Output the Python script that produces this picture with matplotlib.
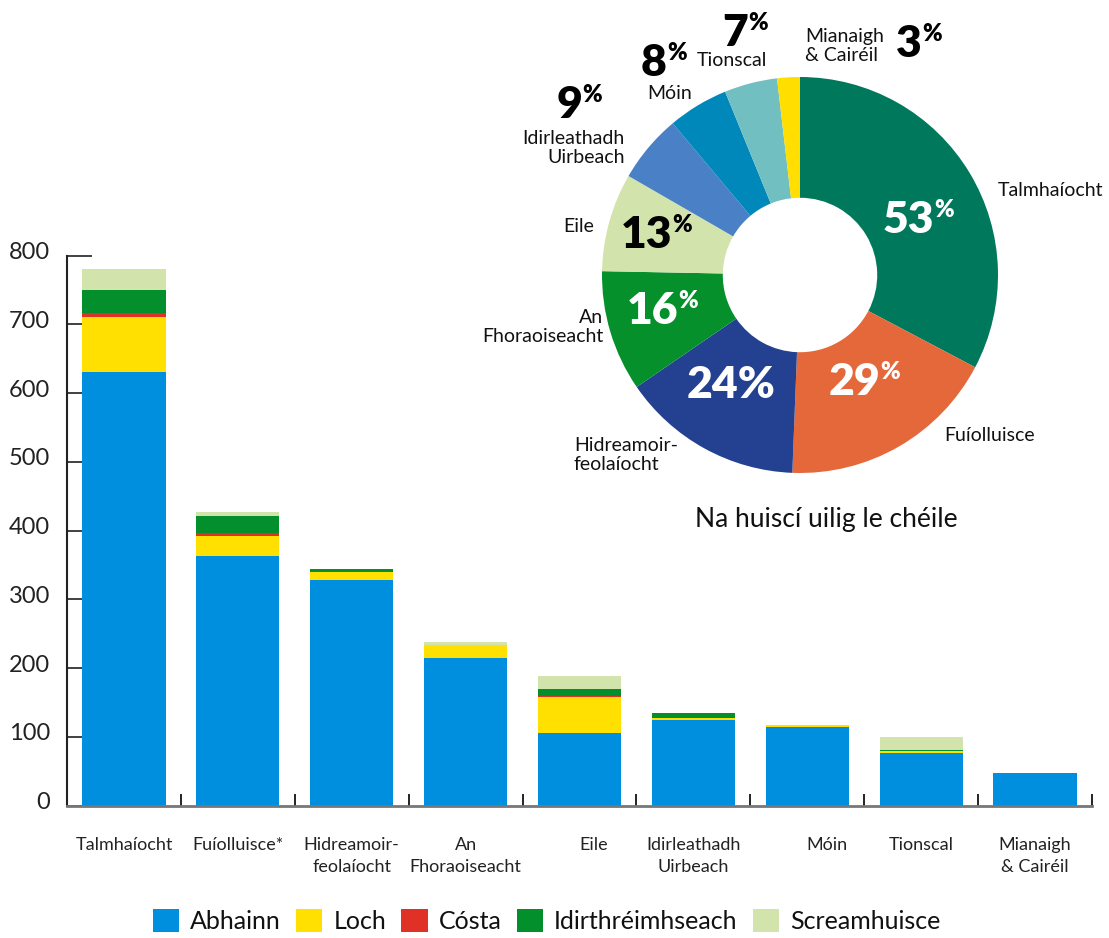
import matplotlib
matplotlib.use('Agg')
import matplotlib.pyplot as plt
from matplotlib.patches import Patch
from matplotlib.transforms import ScaledTranslation
import numpy as np

plt.rcParams['font.family'] = ['Lato', 'DejaVu Sans']

# Sonraí an ghraf barraí
categories = ['Talmhaíocht', 'Fuíolluisce*', 'Hidreamoir-\nfeolaíocht', 'An\nFhoraoiseacht', 'Eile',
              'Idirleathadh\nUirbeach', 'Móin', 'Tionscal', 'Mianaigh\n& Cairéil']
abhainn = [630, 363, 328, 215, 106, 125, 114, 76, 47]
loch = [80, 29, 11, 19, 52, 3, 3, 3, 0]
costa = [7, 4, 0, 0, 1, 0, 0, 0, 0]
idirthreimhseach = [33, 25, 5, 0, 10, 7, 0, 2, 0]
screamhuisce = [31, 6, 0, 4, 20, 0, 0, 19, 0]
series_names = ['Abhainn', 'Loch', 'Cósta', 'Idirthréimhseach', 'Screamhuisce']
series_colors = ['#008FDF', '#FFE000', '#E03127', '#048F2D', '#D2E3AC']

# Sonraí an fháinne
pie_labels = ['Talmhaíocht', 'Fuíolluisce', 'Hidreamoir-\nfeolaíocht', 'An\nFhoraoiseacht', 'Eile',
              'Idirleathadh\nUirbeach', 'Móin', 'Tionscal', 'Mianaigh\n& Cairéil']
pie_values = [53, 29, 24, 16, 13, 9, 8, 7, 3]
pie_colors = ['#00785C', '#E5683B', '#234190', '#05902C', '#D3E3AC',
              '#4A80C6', '#0088BA', '#72BFC2', '#FFDE00']
pie_title = 'Na huiscí uilig le chéile'

W, H = 1109, 938
fig = plt.figure(figsize=(W / 100, H / 100), dpi=100)

# ---- barraí ----
ax = fig.add_axes([67 / W, 1 - 805.5 / H, 1025 / W, 550 / H])
x = np.arange(len(categories))
bottom = np.zeros(len(categories))
for name, vals, col in zip(series_names,
                           [abhainn, loch, costa, idirthreimhseach, screamhuisce],
                           series_colors):
    ax.bar(x, vals, width=0.73, bottom=bottom, color=col, linewidth=0, label=name)
    bottom += np.array(vals)

ax.set_xlim(-0.5, len(categories) - 0.5)
ax.set_ylim(0, 800)
ax.set_axisbelow(True)
for s in ['top', 'right']:
    ax.spines[s].set_visible(False)
ax.spines['left'].set_color('#222')
ax.spines['left'].set_linewidth(1.5)
ax.spines['bottom'].set_color('#777')
ax.spines['bottom'].set_linewidth(2)

ax.set_yticks(range(0, 801, 100))
ax.tick_params(axis='y', direction='in', length=18, width=1.3, color='#333',
               labelsize=17, labelcolor='#222', pad=12)
for lbl in ax.get_yticklabels():
    lbl.set_transform(lbl.get_transform() + ScaledTranslation(0, 0.05, fig.dpi_scale_trans))

ax.set_xticks(x)
ax.set_xticklabels(categories, fontsize=13, color='#222', linespacing=1.4)
ax.tick_params(axis='x', which='major', length=0, pad=23)
ax.set_xticks(np.arange(-0.5, len(categories), 1), minor=True)
ax.tick_params(axis='x', which='minor', direction='in', length=9, width=1.3, color='#111')
xl = ax.get_xticklabels()
xl[4].set_transform(xl[4].get_transform() + ScaledTranslation(0.14, 0, fig.dpi_scale_trans))
xl[6].set_transform(xl[6].get_transform() + ScaledTranslation(0.20, 0, fig.dpi_scale_trans))

# ---- fáinne ----
cx, cy, R = 800, 275, 198
half = 300
axp = fig.add_axes([(cx - half) / W, 1 - (cy + half) / H, 2 * half / W, 2 * half / H])
axp.pie(pie_values, colors=pie_colors, startangle=90, counterclock=False, radius=1,
        wedgeprops=dict(width=0.61, linewidth=0))
lim = half / R
axp.set_xlim(-lim, lim)
axp.set_ylim(-lim, lim)
axp.axis('off')


def P(px, py):
    return (px - cx) / R, (cy - py) / R


label_pos = [(998, 190, 'left'), (944, 435, 'left'), (574, 455, 'left'), (603, 327, 'right'),
             (594, 226, 'right'), (625, 148, 'right'), (670, 93, 'center'), (732, 60, 'center'),
             (805, 46, 'left')]
for lab, (px, py, ha) in zip(pie_labels, label_pos):
    axp.text(*P(px, py), lab, ha=ha, va='center', fontsize=14, color='#111',
             multialignment=ha if ha != 'center' else 'center', linespacing=1.2)

# (digit right edge, baseline, colour, superscript?)
pct_pos = [(934, 233, 'white', True), (880, 395, 'white', True), (775, 398, 'white', False),
           (678, 324, 'white', True), (672, 248, 'black', True), (582, 118, 'black', True),
           (667, 76, 'black', True), (748, 46, 'black', True), (922, 57, 'black', True)]
for v, (px, py, col, sup) in zip(pie_values, pct_pos):
    xx, yy = P(px, py)
    if sup:
        axp.text(xx, yy, str(v), ha='right', va='baseline', fontsize=32,
                 fontweight='heavy', color=col)
        axp.text(xx, yy + 16 / R, '%', ha='left', va='baseline', fontsize=17,
                 fontweight='heavy', color=col)
    else:
        axp.text(xx, yy, f'{v}%', ha='right', va='baseline', fontsize=32,
                 fontweight='heavy', color=col)

fig.text(826 / W, 1 - 520 / H, pie_title, ha='center', va='center', fontsize=19, color='#111')

# ---- eochair ----
handles = [Patch(facecolor=c, edgecolor='none', label=n) for n, c in zip(series_names, series_colors)]
fig.legend(handles=handles, loc='center', bbox_to_anchor=(0.493, 1 - 921 / H), ncol=5,
           frameon=False, fontsize=18, handlelength=1.05, handleheight=1.0,
           handletextpad=0.45, columnspacing=0.6, labelcolor='#111')

fig.savefig('out.png', dpi=100)
